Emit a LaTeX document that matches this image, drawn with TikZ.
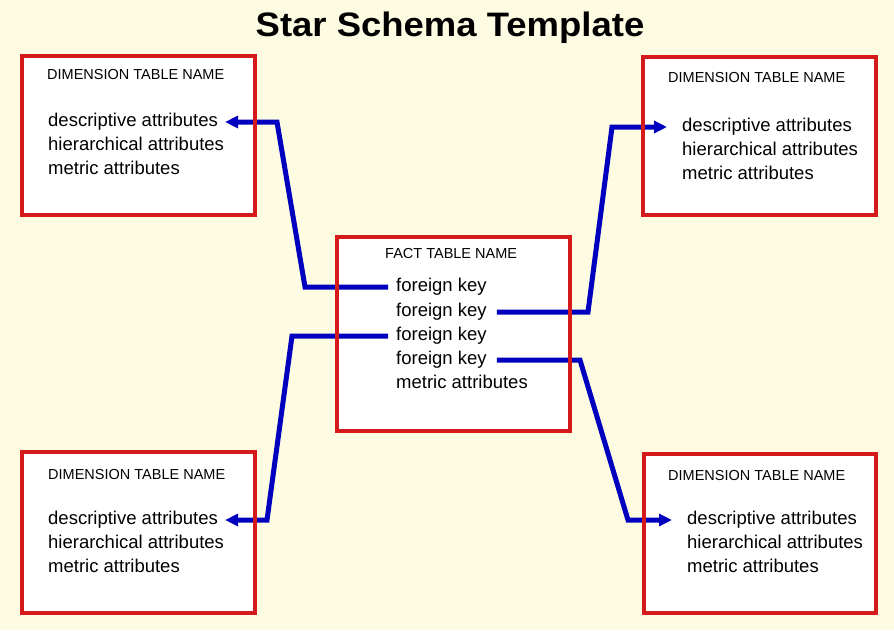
\documentclass[tikz,border=0pt]{standalone}
\usepackage{fontspec}
\setmainfont{Liberation Sans}
\usetikzlibrary{arrows.meta}

\definecolor{paper}{RGB}{253,251,226}
\definecolor{frame}{RGB}{212,26,26}
\definecolor{linkblue}{RGB}{0,0,190}

\tikzset{
  tablebox/.style={fill=white, draw=none, inner sep=0pt},
  tableframe/.style={draw=frame, line width=4.5pt},
  heading/.style={anchor=base west, inner sep=0pt,
    font=\fontsize{14.5}{16}\selectfont},
  attr/.style={anchor=west, inner sep=0pt, text height=9.6pt, text depth=0pt,
    font=\fontsize{18.5}{22}\selectfont},
  keylink/.style={draw=linkblue, line width=5pt, line join=miter,
    -{Triangle[length=13pt,width=12pt]}},
}

\begin{document}
\begin{tikzpicture}[x=1pt, y=-1pt]
  % page background
  \fill[paper] (0,0) rectangle (894,630);
  \useasboundingbox (0,0) rectangle (894,630);

  % title
  \node[anchor=base, inner sep=0pt, font=\bfseries\fontsize{32}{36}\selectfont]
    (title) at (450,36) {\scalebox{1.14}[1.06]{Star Schema Template}};

  % table bodies
  \node[tablebox, minimum width=233pt, minimum height=159pt] (tl)   at (138.5,135.5) {};
  \node[tablebox, minimum width=233pt, minimum height=158pt] (tr)   at (759.5,136) {};
  \node[tablebox, minimum width=233pt, minimum height=194pt] (fact) at (453.5,334) {};
  \node[tablebox, minimum width=233pt, minimum height=161pt] (bl)   at (138.5,532.5) {};
  \node[tablebox, minimum width=232pt, minimum height=159pt] (br)   at (760,533.5) {};

  % top-left dimension table
  \node[heading] (tlhead) at (47,79) {DIMENSION TABLE NAME};
  \node[attr] (tldesc) at (48,122) {descriptive attributes};
  \node[attr] (tlhier) at (48,146) {hierarchical attributes};
  \node[attr] (tlmetr) at (48,170) {metric attributes};

  % top-right dimension table
  \node[heading] (trhead) at (668,82) {DIMENSION TABLE NAME};
  \node[attr] (trdesc) at (682,127) {descriptive attributes};
  \node[attr] (trhier) at (682,151) {hierarchical attributes};
  \node[attr] (trmetr) at (682,175) {metric attributes};

  % fact table
  \node[heading] (facthead) at (385,258) {FACT TABLE NAME};
  \node[attr] (fk1) at (396,287) {foreign key};
  \node[attr] (fk2) at (396,312) {foreign key};
  \node[attr] (fk3) at (396,336) {foreign key};
  \node[attr] (fk4) at (396,360) {foreign key};
  \node[attr] (factmetr) at (396,384) {metric attributes};

  % bottom-left dimension table
  \node[heading] (blhead) at (48,479) {DIMENSION TABLE NAME};
  \node[attr] (bldesc) at (48,520) {descriptive attributes};
  \node[attr] (blhier) at (48,544) {hierarchical attributes};
  \node[attr] (blmetr) at (48,568) {metric attributes};

  % bottom-right dimension table
  \node[heading] (brhead) at (668,480) {DIMENSION TABLE NAME};
  \node[attr] (brdesc) at (687,520) {descriptive attributes};
  \node[attr] (brhier) at (687,544) {hierarchical attributes};
  \node[attr] (brmetr) at (687,568) {metric attributes};

  % bends of the key links
  \coordinate (tlbendA) at (305,287);
  \coordinate (tlbendB) at (277,122);
  \coordinate (trbendA) at (588,312);
  \coordinate (trbendB) at (612,127);
  \coordinate (blbendA) at (292,336);
  \coordinate (blbendB) at (267,520);
  \coordinate (brbendA) at (580,360);
  \coordinate (brbendB) at (628,520);

  % foreign key links, fact table to dimension tables
  \draw[keylink] ([xshift=-8pt]fk1.west) -- (tlbendA) -- (tlbendB) -- ([xshift=7pt]tldesc.east);
  \draw[keylink] ([xshift=10pt]fk2.east) -- (trbendA) -- (trbendB) -- ([xshift=-15pt]trdesc.west);
  \draw[keylink] ([xshift=-8pt]fk3.west) -- (blbendA) -- (blbendB) -- ([xshift=7pt]bldesc.east);
  \draw[keylink] ([xshift=10pt]fk4.east) -- (brbendA) -- (brbendB) -- ([xshift=-15pt]brdesc.west);

  % red frames drawn over the links
  \foreach \t in {tl,tr,fact,bl,br}
    \draw[tableframe] (\t.north west) rectangle (\t.south east);
\end{tikzpicture}
\end{document}
